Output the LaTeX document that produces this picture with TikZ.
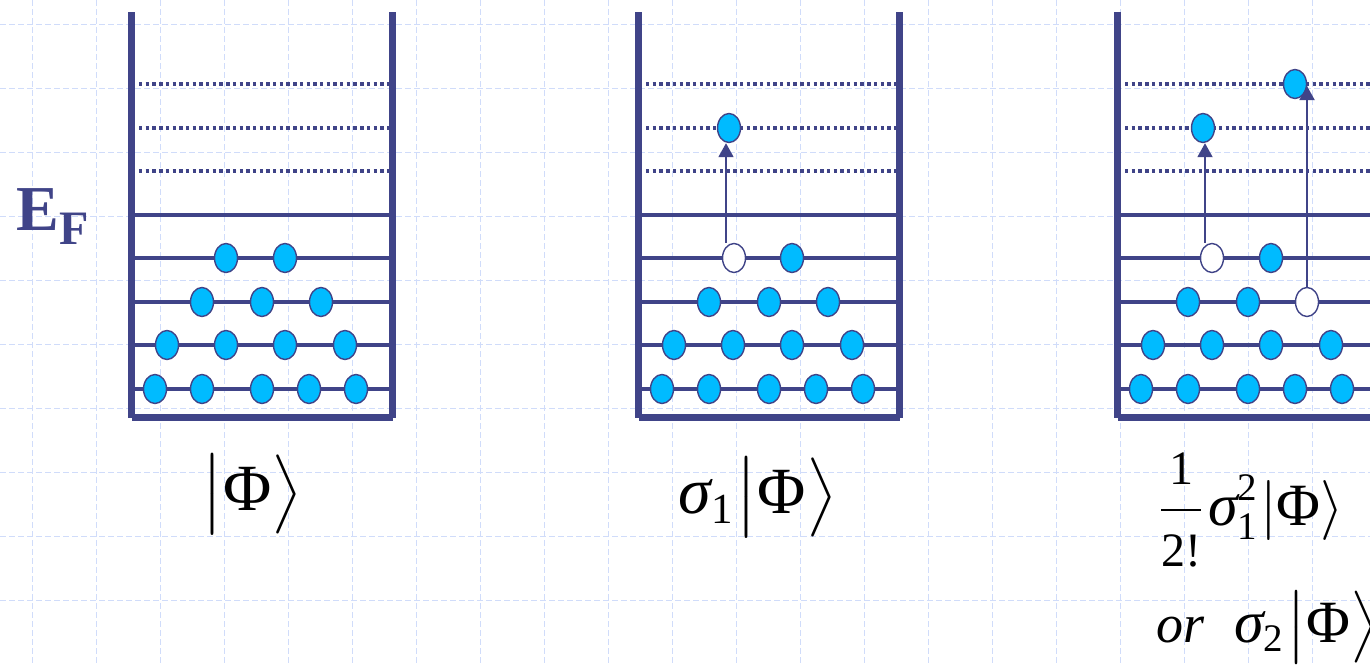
\documentclass[tikz,border=0pt]{standalone}
\usepackage{fontspec}
\setmainfont{Liberation Serif}
\usetikzlibrary{arrows.meta,shapes.geometric,calc}
\definecolor{wellblue}{RGB}{64,68,136}
\definecolor{elec}{RGB}{0,187,255}
\definecolor{gridc}{RGB}{208,220,250}
\newcommand{\smtxt}[1]{\mbox{\fontsize{6.5}{6.5}\selectfont #1}}
\newcommand{\fractxt}[1]{\mbox{\fontsize{8}{8}\selectfont #1}}
\tikzset{
 gridline/.style={draw=gridc, line width=0.5pt, dash pattern=on 3pt off 1.5pt},
 wall/.style={draw=wellblue, line width=3.4pt},
 fermi/.style={draw=wellblue, line width=2.3pt},
 level/.style={draw=wellblue, line width=1.6pt},
 virt/.style={draw=wellblue, line width=1.7pt, dash pattern=on 1.7pt off 1.65pt},
 electron/.style={ellipse, draw=wellblue, fill=elec, line width=0.7pt, minimum width=11.5pt, minimum height=14.5pt, inner sep=0pt},
 hole/.style={electron, fill=white},
 excite/.style={draw=wellblue, line width=0.9pt, -{Triangle[length=7pt,width=7.5pt]}},
 lab/.style={inner sep=0pt, text=black},
}
\begin{document}
\begin{tikzpicture}[x=0.5pt,y=-0.5pt]
\useasboundingbox (0,0) rectangle (1370,664);
\fill[white] (0,0) rectangle (1370,664);
\clip (0,0) rectangle (1370,664);
% grid
\foreach \gx in {32,96,...,1312} \draw[gridline] (\gx,0) -- (\gx,664);
\foreach \gy in {24,88,...,600} \draw[gridline] (0,\gy) -- (1370,\gy);
% wells
\foreach \s in {0,507,986}{
 \begin{scope}[shift={(\s,0)}]
  \foreach \vy in {84,128,171} \draw[virt] (139,\vy) -- (389,\vy);
  \draw[fermi] (135,215) -- (389,215);
  \foreach \ly in {258,302,345,389} \draw[level] (135,\ly) -- (389,\ly);
  \draw[wall] (131.7,12) -- (131.7,417.7);
  \draw[wall] (392.5,12) -- (392.5,417.7);
  \draw[wall] (131.7,417.7) -- (392.5,417.7);
 \end{scope}
}
% well A
\node[electron] (a1-1) at (226,258) {};
\node[electron] (a1-2) at (285,258) {};
\foreach \ex [count=\i] in {202,262,321} \node[electron] (a2-\i) at (\ex,302) {};
\foreach \ex [count=\i] in {167,226,285,345} \node[electron] (a3-\i) at (\ex,345) {};
\foreach \ex [count=\i] in {155,202,262,309,356} \node[electron] (a4-\i) at (\ex,389) {};
% well B
\begin{scope}[shift={(507,0)}]
\node[hole] (b1-1) at (227,258) {};
\node[electron] (b1-2) at (285,258) {};
\foreach \ex [count=\i] in {202,262,321} \node[electron] (b2-\i) at (\ex,302) {};
\foreach \ex [count=\i] in {167,226,285,345} \node[electron] (b3-\i) at (\ex,345) {};
\foreach \ex [count=\i] in {155,202,262,309,356} \node[electron] (b4-\i) at (\ex,389) {};
\node[electron] (bx) at (222,128) {};
\end{scope}
\draw[excite] ($(b1-1.north)+(-8,0)$) -- ($(bx.south)+(-3,0)$);
% well C
\begin{scope}[shift={(986,0)}]
\node[hole] (c1-1) at (226,258) {};
\node[electron] (c1-2) at (285,258) {};
\node[electron] (c2-1) at (202,302) {};
\node[electron] (c2-2) at (262,302) {};
\node[hole] (c2-3) at (321,302) {};
\foreach \ex [count=\i] in {167,226,285,345} \node[electron] (c3-\i) at (\ex,345) {};
\foreach \ex [count=\i] in {155,202,262,309,356} \node[electron] (c4-\i) at (\ex,389) {};
\node[electron] (cx1) at (217,128) {};
\node[electron] (cx2) at (309,84) {};
\end{scope}
\draw[excite] ($(c1-1.north)+(-7,0)$) -- ($(cx1.south)+(2,0)$);
\draw[excite] (c2-3.north) -- ($(cx2.center)+(12,2)$);
% labels
\node[lab, text=wellblue, anchor=base west] (ef) at (16,230)
 {\fontsize{32}{32}\selectfont\bfseries E\raisebox{-7pt}{\fontsize{24}{24}\selectfont F}};
\node[lab, scale=3.3] (l1) at (252,494) {$\bigl|\mbox{Φ}\bigr\rangle$};
\node[lab, scale=3.3] (l2) at (758,497) {$\mbox{\itshape σ}_{\smtxt{1}}\bigl|\mbox{Φ}\bigr\rangle$};
\node[lab, scale=3.0, anchor=base] (l3) at (1249,525) {$\displaystyle\frac{\fractxt{1}}{\fractxt{2!}}\mbox{\itshape σ}_{\smtxt{1}}^{\smtxt{2}}|\mbox{Φ}\rangle$};
\node[lab, scale=3.0, anchor=base west] (l4) at (1155,642) {$\mbox{\fontsize{9}{9}\selectfont\itshape or}\hspace{5pt}\mbox{\itshape σ}_{\smtxt{2}}\bigl|\mbox{Φ}\bigr\rangle$};
\end{tikzpicture}
\end{document}
